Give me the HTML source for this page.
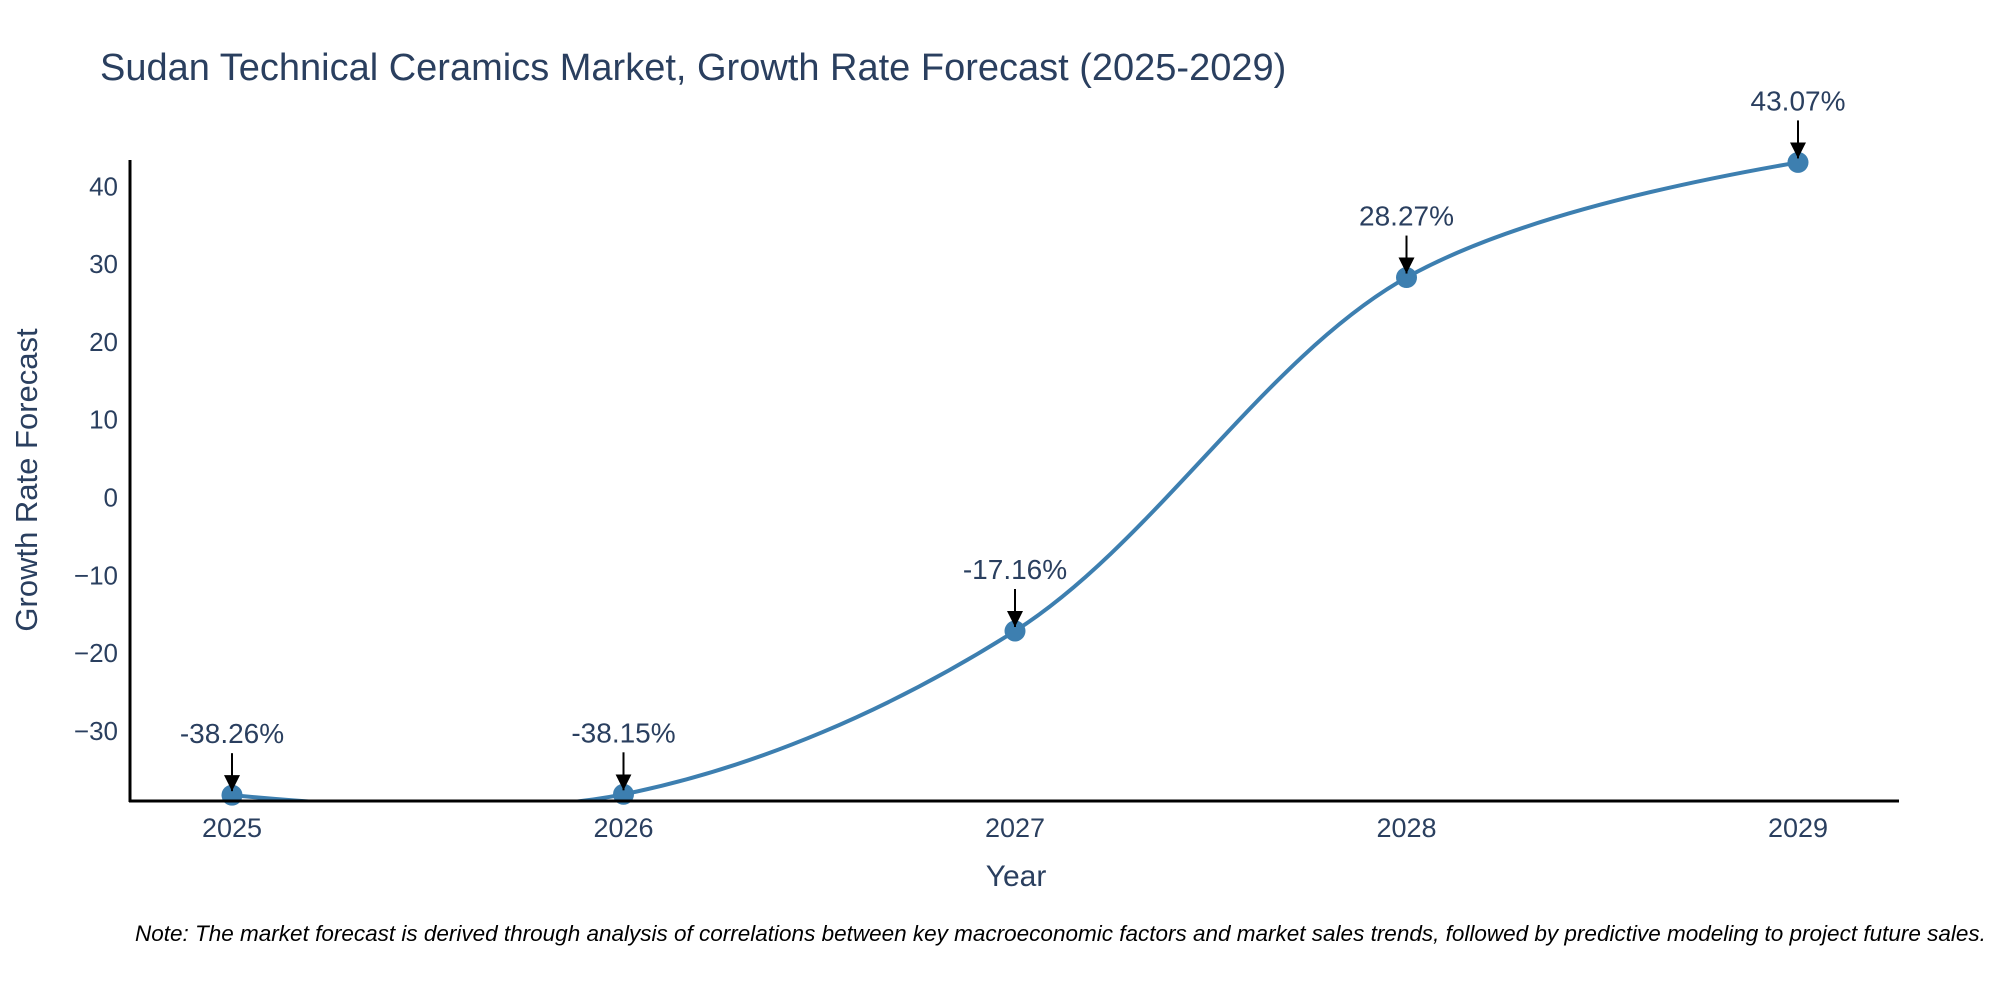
<!DOCTYPE html>
<html><head><meta charset="utf-8"><style>
html,body{margin:0;padding:0;background:#fff;}
svg{display:block;font-family:"Liberation Sans",sans-serif;}
</style></head><body>
<svg id="chart" width="2000" height="1000" viewBox="0 0 2000 1000">
<defs>
<clipPath id="plotclip"><rect x="130" y="150" width="1770" height="651"/></clipPath>
<marker id="arrowhead" viewBox="0 0 10 10" refX="10" refY="5" markerWidth="16" markerHeight="16" markerUnits="userSpaceOnUse" orient="auto"><path d="M0,0 L10,5 L0,10 z" fill="#000"/></marker>
</defs>
<text x="100" y="80" font-size="38" fill="#2a3f5f">Sudan Technical Ceramics Market, Growth Rate Forecast (2025-2029)</text>
<g id="yticks"></g>
<g id="xticks"></g>
<g clip-path="url(#plotclip)"><path id="line" fill="none" stroke="#3d7fb0" stroke-width="4"/></g>
<g id="points"></g>
<g id="annots"></g>
<line x1="130" y1="160" x2="130" y2="802" stroke="#000" stroke-width="3"/>
<line x1="129" y1="801" x2="1899" y2="801" stroke="#000" stroke-width="3"/>
<text transform="translate(37,480) rotate(-90)" text-anchor="middle" font-size="31" fill="#2a3f5f">Growth Rate Forecast</text>
<text x="1016" y="886" text-anchor="middle" font-size="30" fill="#2a3f5f">Year</text>
<text x="135" y="941" font-size="22.5" font-style="italic" fill="#000">Note: The market forecast is derived through analysis of correlations between key macroeconomic factors and market sales trends, followed by predictive modeling to project future sales.</text>
</svg>
<script>
const years = [2025, 2026, 2027, 2028, 2029];
const growth = [-38.26, -38.15, -17.16, 28.27, 43.07];
const labels = ["-38.26%", "-38.15%", "-17.16%", "28.27%", "43.07%"];
const yTickValues = [-30, -20, -10, 0, 10, 20, 30, 40];
const yTickLabels = ["\u221230", "\u221220", "\u221210", "0", "10", "20", "30", "40"];

const NS = "http://www.w3.org/2000/svg";
function xs(v){ return 232 + (v - 2025) * 391.5; }
function ys(v){ return 497.5 - v * 7.78; }
function mk(tag, attrs, parent){ const e=document.createElementNS(NS,tag); for(const k in attrs) e.setAttribute(k,attrs[k]); parent.appendChild(e); return e; }

const yt = document.getElementById('yticks');
yTickValues.forEach((v,i)=>{
  const t = mk('text',{x:118,y:ys(v)+9,'text-anchor':'end','font-size':26,fill:'#2a3f5f'},yt);
  
  
  t.textContent = yTickLabels[i];
});
const xt = document.getElementById('xticks');
years.forEach(y=>{
  const t = mk('text',{x:xs(y),y:837,'text-anchor':'middle','font-size':27,fill:'#2a3f5f'},xt);
  
  
  t.textContent = String(y);
});

// plotly-style spline
const pts = years.map((y,i)=>[xs(y), ys(growth[i])]);
function tangent(p0,p1,p2,s){
  const d1x=p0[0]-p1[0], d1y=p0[1]-p1[1], d2x=p2[0]-p1[0], d2y=p2[1]-p1[1];
  const d1a=Math.pow(d1x*d1x+d1y*d1y,0.25), d2a=Math.pow(d2x*d2x+d2y*d2y,0.25);
  const nx=(d2a*d2a*d1x-d1a*d1a*d2x)*s, ny=(d2a*d2a*d1y-d1a*d1a*d2y)*s;
  const den1=3*d2a*(d1a+d2a), den2=3*d1a*(d1a+d2a);
  return [[p1[0]+nx/den1,p1[1]+ny/den1],[p1[0]-nx/den2,p1[1]-ny/den2]];
}
const tg=[];
for(let i=1;i<pts.length-1;i++) tg.push(tangent(pts[i-1],pts[i],pts[i+1],1));
let d='M'+pts[0]+' Q'+tg[0][0]+' '+pts[1];
for(let i=2;i<pts.length-1;i++) d+=' C'+tg[i-2][1]+' '+tg[i-1][0]+' '+pts[i];
d+=' Q'+tg[tg.length-1][1]+' '+pts[pts.length-1];
document.getElementById('line').setAttribute('d',d);

const pg=document.getElementById('points'), ag=document.getElementById('annots');
pts.forEach((p,i)=>{
  const c=mk('circle',{cx:p[0],cy:p[1],r:10.5,fill:'#3d7fb0'},pg);
  
  
  const l=mk('line',{x1:p[0],y1:p[1]-42,x2:p[0],y2:p[1]-4,stroke:'#000','stroke-width':2,'marker-end':'url(#arrowhead)'},ag);
  
  
  const t=mk('text',{x:p[0],y:p[1]-52,'text-anchor':'middle','font-size':28,fill:'#2a3f5f'},ag);
  
  
  t.textContent=labels[i];
});
</script>
</body></html>
